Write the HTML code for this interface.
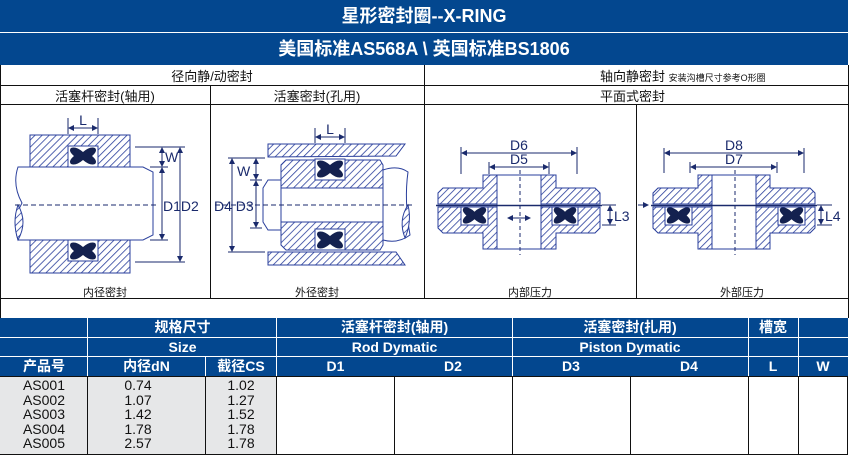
<!DOCTYPE html>
<html><head><meta charset="utf-8"><style>
*{margin:0;padding:0;box-sizing:border-box}
body{width:855px;height:460px;background:#fff;overflow:hidden;position:relative;font-family:"Liberation Sans","Noto Sans CJK SC",sans-serif}
.ban{position:absolute;left:0;width:848px;background:#03478f;color:#fff;font-weight:bold;text-align:center;font-family:"Liberation Sans","Noto Sans CJK SC",sans-serif}
.t{position:absolute;font-size:13px;color:#111;text-align:center}
.b{position:absolute;background:#111}
.h{position:absolute;background:#03478f;color:#fff;font-weight:bold;font-size:14px;text-align:center;line-height:19px}
.d{position:absolute;font-size:14px;color:#111;text-align:center;line-height:14.5px}
</style></head><body>
<div class="ban" style="top:0;height:32px;font-size:18px;line-height:32px">星形密封圈--X-RING</div>
<div class="ban" style="top:33px;height:32px;font-size:18px;line-height:32px">美国标准AS568A \ 英国标准BS1806</div>

<div class="b" style="left:0;top:65px;width:1px;height:253px"></div>
<div class="b" style="left:848px;top:65px;width:1px;height:253px"></div>
<div class="b" style="left:0;top:85px;width:848px;height:1px"></div>
<div class="b" style="left:0;top:104px;width:848px;height:1px"></div>
<div class="b" style="left:0;top:298px;width:848px;height:1px"></div>
<div class="b" style="left:424px;top:65px;width:1px;height:20px"></div>
<div class="b" style="left:210px;top:85px;width:1px;height:213px"></div>
<div class="b" style="left:424px;top:85px;width:1px;height:213px"></div>
<div class="b" style="left:636px;top:104px;width:1px;height:194px"></div>
<div class="t" style="left:0;top:66px;width:424px">径向静/动密封</div>
<div class="t" style="left:600px;top:66px;width:230px;text-align:left">轴向静密封 <span style="font-size:9px">安装沟槽尺寸参考O形圈</span></div>
<div class="t" style="left:0;top:86px;width:210px">活塞杆密封(轴用)</div>
<div class="t" style="left:210px;top:86px;width:214px">活塞密封(孔用)</div>
<div class="t" style="left:600px;top:86px;width:100px;text-align:left">平面式密封</div>
<div class="t" style="left:0;top:284px;width:210px;font-size:11px">内径密封</div>
<div class="t" style="left:210px;top:284px;width:214px;font-size:11px">外径密封</div>
<div class="t" style="left:424px;top:284px;width:212px;font-size:11px">内部压力</div>
<div class="t" style="left:636px;top:284px;width:212px;font-size:11px">外部压力</div>

<svg style="position:absolute;left:0;top:0" width="855" height="300">
<defs>
<pattern id="hp" width="5" height="5" patternUnits="userSpaceOnUse" patternTransform="rotate(45)"><rect width="5" height="5" fill="#fff"/><line x1="0" y1="0" x2="0" y2="5" stroke="#2a3f9c" stroke-width="1.6"/></pattern>
<marker id="a" markerWidth="6" markerHeight="6" refX="5" refY="3" orient="auto-start-reverse"><path d="M0,0L6,3L0,6z" fill="#1a2a6c"/></marker>
<symbol id="x" viewBox="0 0 30 20" preserveAspectRatio="none"><path d="M3,2 Q8,0 15,6 Q22,0 27,2 Q30,5 24,10 Q30,15 27,18 Q22,20 15,14 Q8,20 3,18 Q0,15 6,10 Q0,5 3,2z" fill="#14214f"/></symbol>
</defs>
<g stroke="#2a3f9c" stroke-width="1">
<rect x="30" y="135" width="100" height="32" fill="url(#hp)"/>
<rect x="30" y="240" width="100" height="33" fill="url(#hp)"/>
<rect x="68" y="146" width="30" height="21" fill="#fff"/>
<rect x="68" y="240" width="30" height="21" fill="#fff"/>
<path d="M18,167 L143,167 L153,172 L153,235 L143,240 L18,240 Q12,220 22,203 Q12,185 18,167z" fill="#fff"/>
<path d="M18,205 Q12,222 18,240 Q28,222 18,205z" fill="url(#hp)"/>
</g>
<use href="#x" x="68" y="146" width="30" height="20"/>
<use href="#x" x="68" y="241" width="30" height="20"/>
<g stroke="#1a2a6c" stroke-width="1" fill="none">
<line x1="15" y1="205" x2="158" y2="205" stroke-dasharray="5,3"/>
<line x1="68" y1="118" x2="68" y2="134"/><line x1="98" y1="118" x2="98" y2="134"/>
<line x1="69" y1="128" x2="97" y2="128" marker-start="url(#a)" marker-end="url(#a)"/>
<line x1="135" y1="147" x2="185" y2="147"/><line x1="135" y1="262" x2="185" y2="262"/><line x1="150" y1="167" x2="168" y2="167"/><line x1="150" y1="240" x2="168" y2="240"/>
<line x1="162" y1="148" x2="162" y2="166" marker-start="url(#a)" marker-end="url(#a)"/>
<line x1="162" y1="168" x2="162" y2="239" marker-start="url(#a)" marker-end="url(#a)"/>
<line x1="180" y1="148" x2="180" y2="261" marker-start="url(#a)" marker-end="url(#a)"/>
</g>
<g stroke="#2a3f9c" stroke-width="1">
<path d="M268,144 L405,144 L396,156 L268,157z" fill="url(#hp)"/>
<path d="M268,252 L396,252 L405,265 L268,265z" fill="url(#hp)"/>
<path d="M286,160 L380,160 L383,165 L383,188 L281,188 L281,165z" fill="url(#hp)"/>
<path d="M281,222 L383,222 L383,245 L380,250 L286,250 L281,245z" fill="url(#hp)"/>
<rect x="315" y="159" width="30" height="21" fill="#fff"/>
<rect x="315" y="229" width="30" height="21" fill="#fff"/>
<path d="M268,180 L281,180 L281,230 L268,230 L263,222 L263,188z" fill="#fff"/>
<path d="M383,170 Q398,165 408,172 Q404,200 410,235 Q398,244 383,240z" fill="#fff"/>
<path d="M408,205 Q398,220 405,238 Q412,222 408,205z" fill="url(#hp)"/>
</g>
<use href="#x" x="315" y="159" width="30" height="20"/>
<use href="#x" x="315" y="230" width="30" height="20"/>
<g stroke="#1a2a6c" stroke-width="1" fill="none">
<line x1="215" y1="205" x2="415" y2="205" stroke-dasharray="5,3"/>
<line x1="315" y1="128" x2="315" y2="143"/><line x1="345" y1="128" x2="345" y2="143"/>
<line x1="316" y1="137" x2="344" y2="137" marker-start="url(#a)" marker-end="url(#a)"/>
<line x1="228" y1="158" x2="265" y2="158"/><line x1="228" y1="252" x2="265" y2="252"/><line x1="250" y1="180" x2="262" y2="180"/><line x1="250" y1="228" x2="262" y2="228"/>
<line x1="256" y1="159" x2="256" y2="179" marker-start="url(#a)" marker-end="url(#a)"/>
<line x1="256" y1="181" x2="256" y2="227" marker-start="url(#a)" marker-end="url(#a)"/>
<line x1="232" y1="159" x2="232" y2="251" marker-start="url(#a)" marker-end="url(#a)"/>
</g>
<g stroke="#2a3f9c" stroke-width="1">
<path d="M483,175 L556,175 L556,188 L595,188 L600,193 L600,204 L438,204 L438,193 L443,188 L483,188z" fill="url(#hp)"/>
<path d="M438,207 L600,207 L600,228 L595,233 L556,233 L556,249 L483,249 L483,233 L443,233 L438,228z" fill="url(#hp)"/>
<rect x="497" y="175" width="44" height="74" fill="#fff"/>
<rect x="461" y="207" width="27" height="18" fill="#fff"/>
<rect x="552" y="207" width="26" height="18" fill="#fff"/>
<path d="M698,175 L770,175 L770,188 L810,188 L815,193 L815,204 L653,204 L653,193 L658,188 L698,188z" fill="url(#hp)"/>
<path d="M653,207 L815,207 L815,228 L810,233 L770,233 L770,249 L698,249 L698,233 L658,233 L653,228z" fill="url(#hp)"/>
<rect x="712" y="175" width="44" height="74" fill="#fff"/>
<rect x="665" y="207" width="27" height="18" fill="#fff"/>
<rect x="778" y="207" width="27" height="18" fill="#fff"/>
</g>
<use href="#x" x="461" y="206" width="27" height="19"/>
<use href="#x" x="552" y="206" width="26" height="19"/>
<use href="#x" x="665" y="206" width="27" height="19"/>
<use href="#x" x="778" y="206" width="27" height="19"/>
<g stroke="#1a2a6c" stroke-width="1" fill="none">
<line x1="436" y1="205.5" x2="602" y2="205.5" stroke-width="1.5"/>
<line x1="651" y1="205.5" x2="817" y2="205.5" stroke-width="1.5"/>
<line x1="520" y1="170" x2="520" y2="255" stroke-dasharray="4,3"/>
<line x1="735" y1="170" x2="735" y2="255" stroke-dasharray="4,3"/>
<line x1="508" y1="218" x2="530" y2="218" marker-start="url(#a)" marker-end="url(#a)"/>
<line x1="461" y1="147" x2="461" y2="174"/><line x1="577" y1="147" x2="577" y2="174"/>
<line x1="462" y1="153" x2="576" y2="153" marker-start="url(#a)" marker-end="url(#a)"/>
<line x1="489" y1="162" x2="489" y2="174"/><line x1="549" y1="162" x2="549" y2="174"/>
<line x1="490" y1="167" x2="548" y2="167" marker-start="url(#a)" marker-end="url(#a)"/>
<line x1="602" y1="205" x2="616" y2="205"/><line x1="602" y1="225" x2="616" y2="225"/>
<line x1="610" y1="206" x2="610" y2="224" marker-start="url(#a)" marker-end="url(#a)"/>
<line x1="664" y1="148" x2="664" y2="173"/><line x1="804" y1="148" x2="804" y2="173"/>
<line x1="665" y1="153" x2="803" y2="153" marker-start="url(#a)" marker-end="url(#a)"/>
<line x1="690" y1="162" x2="690" y2="173"/><line x1="777" y1="162" x2="777" y2="173"/>
<line x1="691" y1="167" x2="776" y2="167" marker-start="url(#a)" marker-end="url(#a)"/>
<line x1="817" y1="205" x2="832" y2="205"/><line x1="817" y1="225" x2="832" y2="225"/>
<line x1="821" y1="206" x2="821" y2="224" marker-start="url(#a)" marker-end="url(#a)"/>
<line x1="638" y1="205" x2="648" y2="205" marker-end="url(#a)"/>
</g>
<g font-family="Liberation Sans,sans-serif" font-size="14" fill="#1a2a6c">
<text x="83" y="125" text-anchor="middle">L</text>
<text x="165" y="162">W</text>
<text x="163" y="211">D1D2</text>
<text x="330" y="134" text-anchor="middle">L</text>
<text x="237" y="176">W</text>
<text x="214" y="211">D4 D3</text>
<text x="519" y="150" text-anchor="middle">D6</text>
<text x="519" y="164" text-anchor="middle">D5</text>
<text x="614" y="221">L3</text>
<text x="734" y="150" text-anchor="middle">D8</text>
<text x="734" y="164" text-anchor="middle">D7</text>
<text x="825" y="221">L4</text>
</g>
</svg>

<div class="h" style="left:0;top:318px;width:848px;height:58px"></div>
<div class="h" style="left:88px;top:318px;width:189px;background:none">规格尺寸</div>
<div class="h" style="left:88px;top:338px;width:189px;background:none">Size</div>
<div class="h" style="left:277px;top:318px;width:235px;background:none">活塞杆密封(轴用)</div>
<div class="h" style="left:277px;top:338px;width:235px;background:none">Rod Dymatic</div>
<div class="h" style="left:512px;top:318px;width:236px;background:none">活塞密封(扎用)</div>
<div class="h" style="left:512px;top:338px;width:236px;background:none">Piston Dymatic</div>
<div class="h" style="left:748px;top:318px;width:50px;background:none">槽宽</div>
<div class="h" style="left:0;top:357px;width:88px;background:none">产品号</div>
<div class="h" style="left:88px;top:357px;width:117px;background:none">内径dN</div>
<div class="h" style="left:205px;top:357px;width:72px;background:none">截径CS</div>
<div class="h" style="left:277px;top:357px;width:117px;background:none">D1</div>
<div class="h" style="left:394px;top:357px;width:118px;background:none">D2</div>
<div class="h" style="left:512px;top:357px;width:118px;background:none">D3</div>
<div class="h" style="left:630px;top:357px;width:118px;background:none">D4</div>
<div class="h" style="left:748px;top:357px;width:50px;background:none">L</div>
<div class="h" style="left:798px;top:357px;width:50px;background:none">W</div>
<div style="position:absolute;left:0;top:337px;width:848px;height:1px;background:#fff"></div>
<div style="position:absolute;left:0;top:356px;width:848px;height:1px;background:#fff"></div>
<div style="position:absolute;left:87px;top:318px;width:1px;height:58px;background:#fff"></div>
<div style="position:absolute;left:205px;top:357px;width:1px;height:19px;background:#fff"></div>
<div style="position:absolute;left:276px;top:318px;width:1px;height:58px;background:#fff"></div>
<div style="position:absolute;left:512px;top:318px;width:1px;height:58px;background:#fff"></div>
<div style="position:absolute;left:748px;top:318px;width:1px;height:58px;background:#fff"></div>
<div style="position:absolute;left:798px;top:318px;width:1px;height:58px;background:#fff"></div>
<div style="position:absolute;left:0;top:376px;width:277px;height:79px;background:#e6e7e8"></div>
<div class="b" style="left:0;top:376px;width:848px;height:1px"></div>
<div class="b" style="left:0;top:454px;width:848px;height:1px"></div>
<div class="b" style="left:87px;top:376px;width:1px;height:79px"></div>
<div class="b" style="left:205px;top:376px;width:1px;height:79px"></div>
<div class="b" style="left:276px;top:376px;width:1px;height:79px"></div>
<div class="b" style="left:394px;top:376px;width:1px;height:79px"></div>
<div class="b" style="left:512px;top:376px;width:1px;height:79px"></div>
<div class="b" style="left:630px;top:376px;width:1px;height:79px"></div>
<div class="b" style="left:748px;top:376px;width:1px;height:79px"></div>
<div class="b" style="left:798px;top:376px;width:1px;height:79px"></div>
<div class="b" style="left:847px;top:376px;width:1px;height:79px"></div>
<div class="d" style="left:0;top:378px;width:88px">AS001<br>AS002<br>AS003<br>AS004<br>AS005</div>
<div class="d" style="left:88px;top:378px;width:100px">0.74<br>1.07<br>1.42<br>1.78<br>2.57</div>
<div class="d" style="left:205px;top:378px;width:72px">1.02<br>1.27<br>1.52<br>1.78<br>1.78</div>
</body></html>
